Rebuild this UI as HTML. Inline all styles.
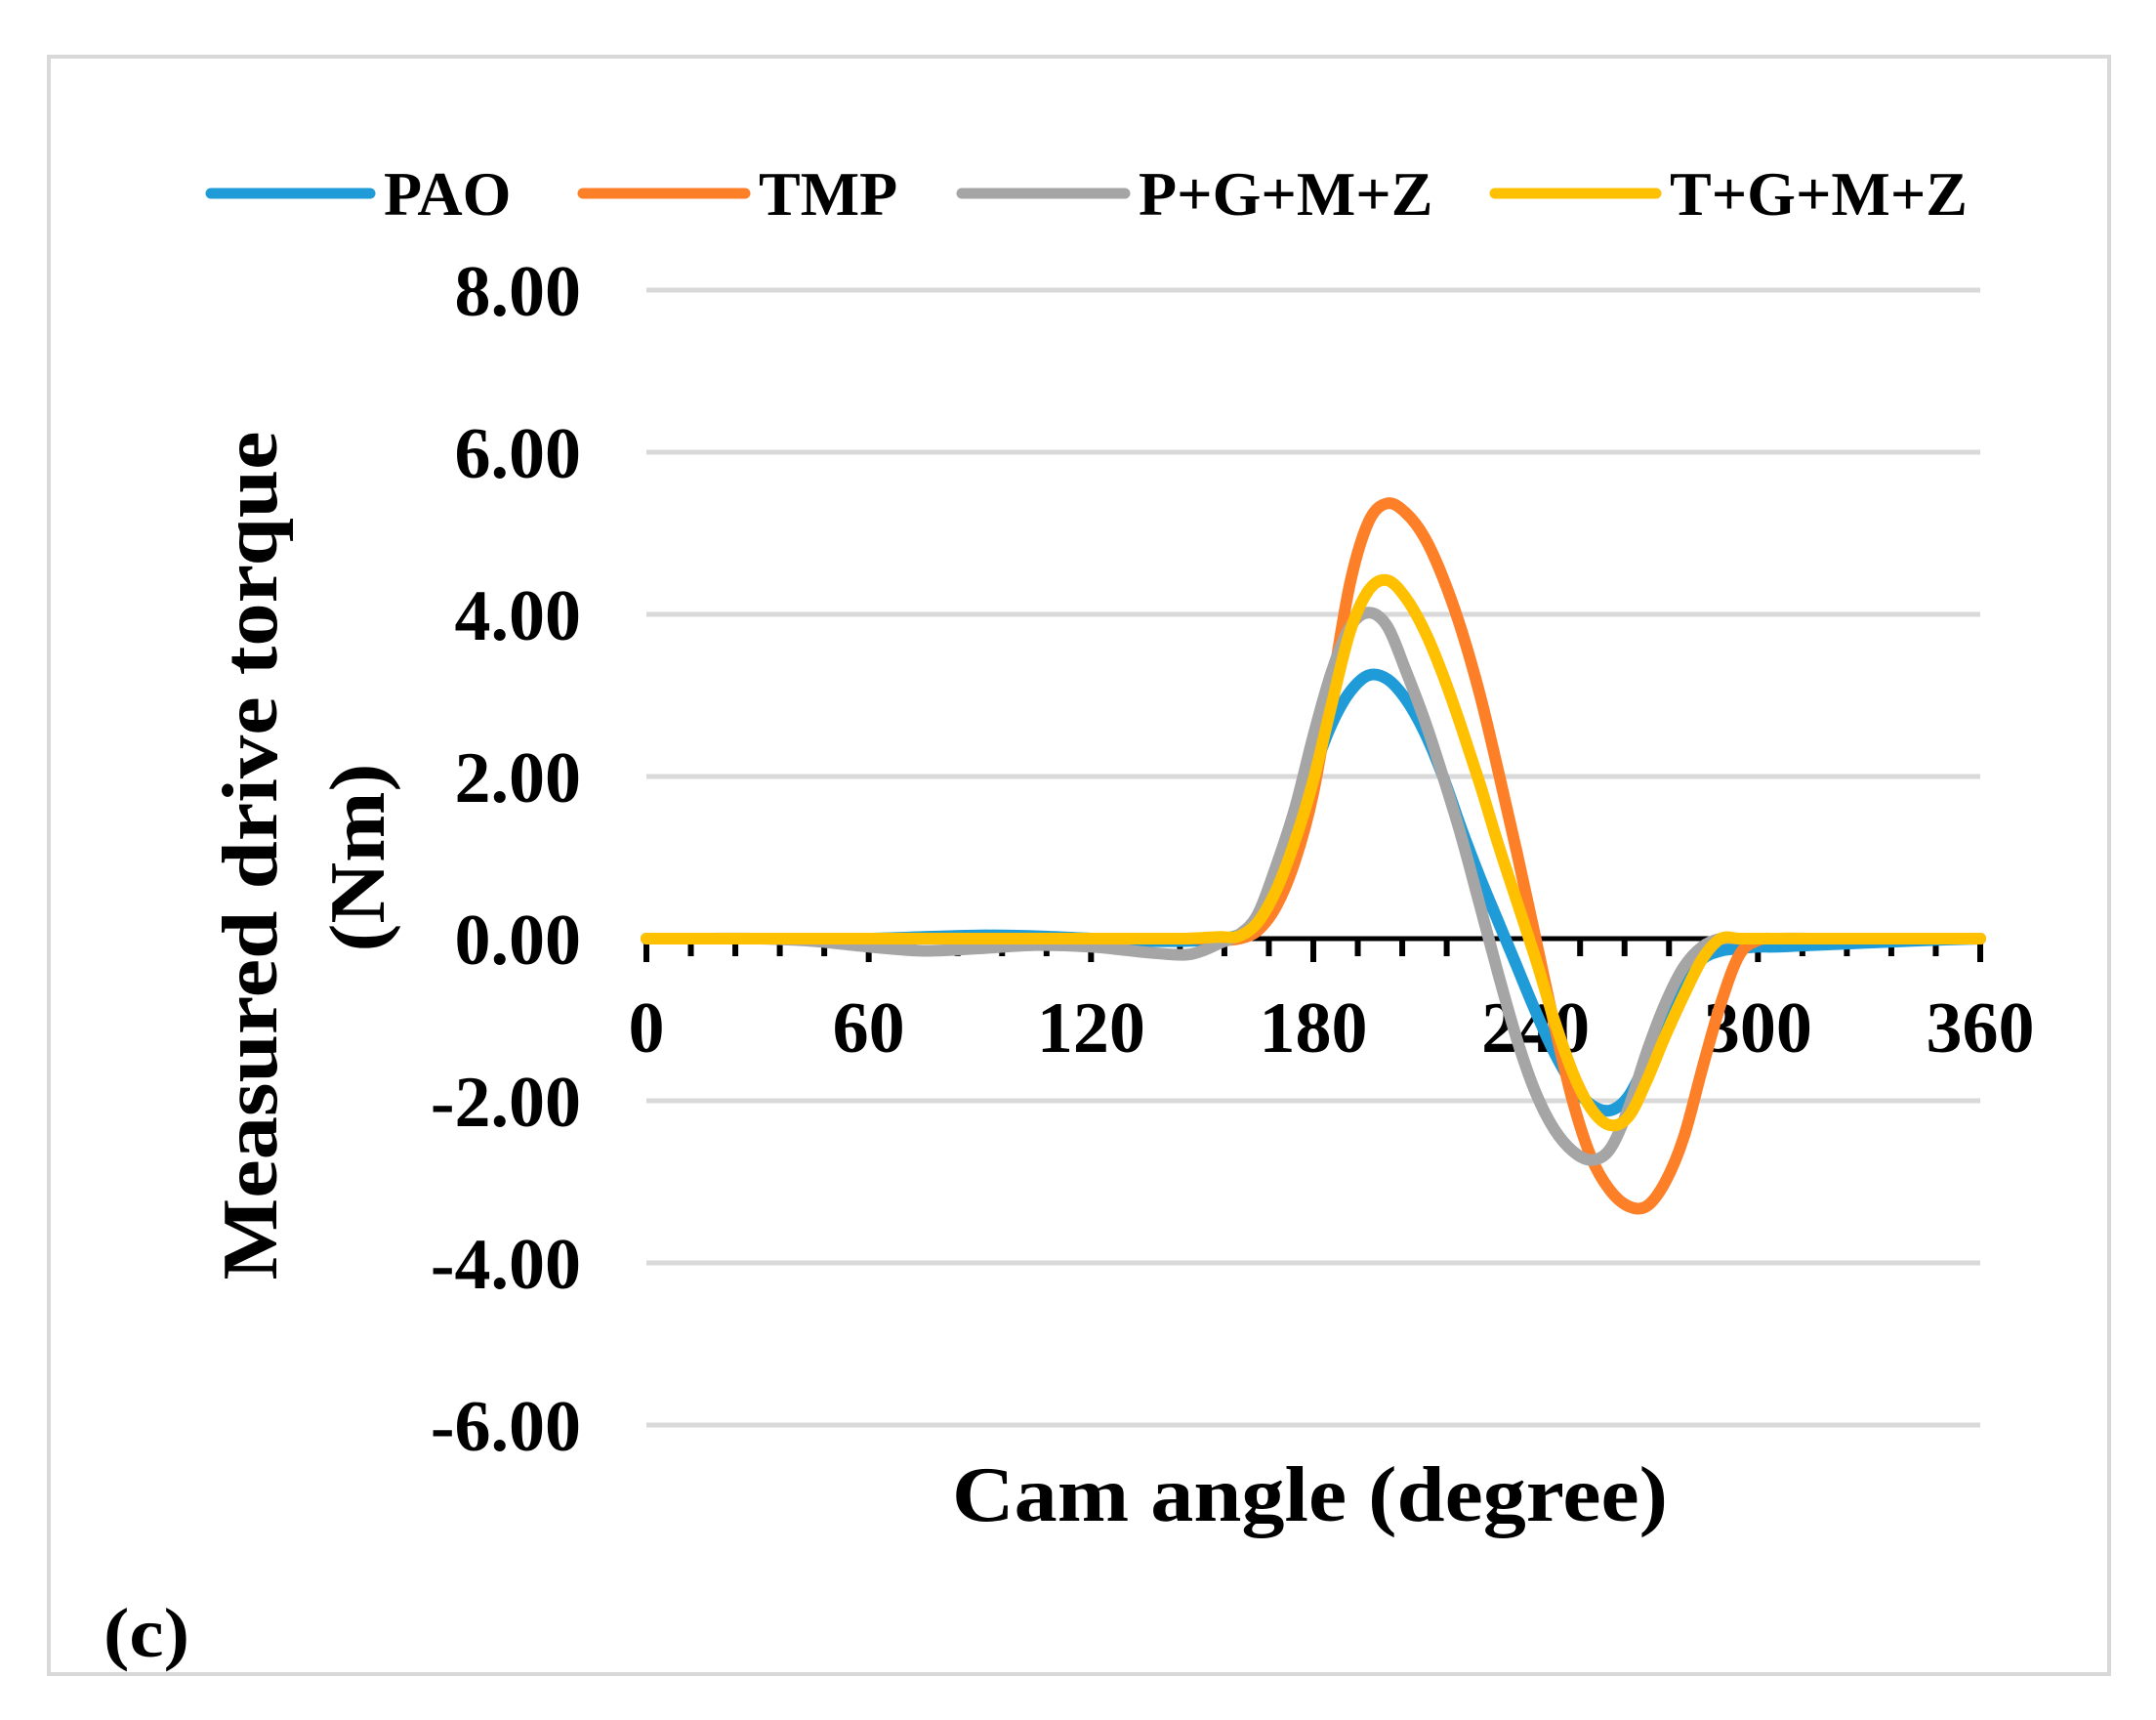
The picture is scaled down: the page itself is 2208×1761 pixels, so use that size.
<!DOCTYPE html>
<html><head><meta charset="utf-8"><style>
html,body{margin:0;padding:0;background:#fff;}
svg{display:block;font-family:"Liberation Serif",serif;font-weight:bold;}
</style></head><body>
<svg id="chart" width="2208" height="1761" viewBox="0 0 2208 1761" xmlns="http://www.w3.org/2000/svg">
<rect x="50" y="58" width="2110" height="1656" fill="none" stroke="#d9d9d9" stroke-width="4"/>
<g id="grid"></g><g id="axis"></g><g id="series"></g><g id="legend"></g>
<text x="975" y="1557" font-size="80" textLength="733" lengthAdjust="spacingAndGlyphs">Cam angle (degree)</text>
<text transform="translate(283,876) rotate(-90)" text-anchor="middle" font-size="80" textLength="869" lengthAdjust="spacingAndGlyphs">Measured drive torque</text>
<text transform="translate(393,878) rotate(-90)" text-anchor="middle" font-size="80" textLength="193" lengthAdjust="spacingAndGlyphs">(Nm)</text>
<text x="106" y="1696" font-size="72" textLength="88" lengthAdjust="spacingAndGlyphs">(c)</text>
</svg>
<script>
const angles=[0,15,30,45,60,75,90,105,120,135,145,150,155,160,165,170,175,180,185,190,195,200,205,210,215,220,225,230,235,240,245,250,255,260,265,270,275,280,285,290,295,300,305,315,330,345,360];
const paoValues=[0,0,0,0,0,0.02,0.04,0.03,0,-0.03,-0.03,-0.02,0,0.05,0.25,0.7,1.3,2.05,2.65,3.05,3.25,3.2,2.95,2.55,2.0,1.35,0.75,0.2,-0.35,-0.9,-1.4,-1.8,-2.05,-2.12,-1.95,-1.5,-0.95,-0.5,-0.25,-0.15,-0.12,-0.1,-0.1,-0.08,-0.05,-0.02,0];
const tmpValues=[0,0,0,0,0,0,0,0,0,0,0,0,-0.02,0,0.1,0.4,0.95,1.8,3.1,4.4,5.15,5.37,5.25,4.95,4.45,3.8,3.0,2.05,1.05,0,-1.05,-2.0,-2.7,-3.1,-3.3,-3.3,-3.0,-2.45,-1.6,-0.8,-0.2,-0.02,0,0,0,0,0];
const pgmzValues=[0,0,0,-0.03,-0.1,-0.15,-0.12,-0.08,-0.1,-0.17,-0.2,-0.15,-0.05,0.05,0.3,0.9,1.6,2.5,3.3,3.85,4.02,3.85,3.3,2.7,2.0,1.25,0.4,-0.45,-1.25,-1.9,-2.35,-2.62,-2.73,-2.6,-2.1,-1.4,-0.8,-0.35,-0.1,0,0,0,0,0,0,0,0];
const tgmzValues=[0,0,0,0,0,0,0,0,0,0,0,0.01,0.02,0.03,0.2,0.6,1.2,1.95,2.9,3.8,4.3,4.42,4.2,3.8,3.25,2.6,1.9,1.15,0.45,-0.25,-1.0,-1.65,-2.1,-2.3,-2.2,-1.75,-1.2,-0.7,-0.25,0,0,0,0,0,0,0,0];
const yTicks=[8,6,4,2,0,-2,-4,-6];
const yTickLabels=["8.00","6.00","4.00","2.00","0.00","-2.00","-4.00","-6.00"];
const xTicks=[0,60,120,180,240,300,360];
const xTickLabels=["0","60","120","180","240","300","360"];
const seriesNames=["PAO","TMP","P+G+M+Z","T+G+M+Z"];

const NS="http://www.w3.org/2000/svg";
const X0=662,X1=2028,Y0=961,YU=83;
const xs=a=>X0+(X1-X0)*a/360;
const ys=v=>Y0-v*YU;
function mk(tag,attrs,parent){const e=document.createElementNS(NS,tag);for(const k in attrs)e.setAttribute(k,attrs[k]);parent.appendChild(e);return e;}
const grid=document.getElementById('grid'),axis=document.getElementById('axis'),ser=document.getElementById('series'),leg=document.getElementById('legend');
yTicks.forEach((t,i)=>{
  if(t!==0){const l=mk('line',{x1:X0,x2:X1,y1:ys(t),y2:ys(t),stroke:'#d9d9d9','stroke-width':5},grid);
  
  }
  const tx=mk('text',{x:595,y:ys(t)+26,'text-anchor':'end','font-size':74},axis);
  tx.textContent=yTickLabels[i];
  
  
});
const ax=mk('line',{x1:X0,x2:X1,y1:Y0,y2:Y0,stroke:'#000','stroke-width':5},axis);


for(let a=0;a<=360;a+=12){
  const tk=mk('line',{x1:xs(a),x2:xs(a),y1:Y0,y2:Y0+(a%60===0?24:18),stroke:'#000','stroke-width':6},axis);
  
  
}
xTicks.forEach((t,i)=>{
  const tx=mk('text',{x:xs(t),y:1077,'text-anchor':'middle','font-size':74},axis);
  tx.textContent=xTickLabels[i];
  
  
});
function pathFor(vals){
  const p=angles.map((a,i)=>[xs(a),ys(vals[i])]);
  let d='M'+p[0][0]+','+p[0][1];
  for(let i=0;i<p.length-1;i++){
    const p0=p[i-1]||p[i],p1=p[i],p2=p[i+1],p3=p[i+2]||p2;
    const c1=[p1[0]+(p2[0]-p0[0])/6,p1[1]+(p2[1]-p0[1])/6];
    const c2=[p2[0]-(p3[0]-p1[0])/6,p2[1]-(p3[1]-p1[1])/6];
    d+=' C'+c1[0].toFixed(1)+','+c1[1].toFixed(1)+' '+c2[0].toFixed(1)+','+c2[1].toFixed(1)+' '+p2[0].toFixed(1)+','+p2[1].toFixed(1);
  }
  return d;
}
const colors=['#1f9bd7','#fd7f28','#a5a5a5','#ffc000'];
const data=[paoValues,tmpValues,pgmzValues,tgmzValues];
const slugs=['pao','tmp','pgmz','tgmz'];
data.forEach((v,i)=>{
  const pth=mk('path',{d:pathFor(v),fill:'none',stroke:colors[i],'stroke-width':12,'stroke-linejoin':'round','stroke-linecap':'round'},ser);
  
  
});
const legLines=[[216,379],[597,763],[985,1152],[1531,1696]];
legLines.forEach((r,i)=>{
  const g=mk('g',{},leg);
  
  
  mk('line',{x1:r[0],x2:r[1],y1:198,y2:198,stroke:colors[i],'stroke-width':11,'stroke-linecap':'round'},g);
  const t=mk('text',{x:r[1]+14,y:220,'font-size':64},g);
  t.textContent=seriesNames[i];
});
</script>
</body></html>
